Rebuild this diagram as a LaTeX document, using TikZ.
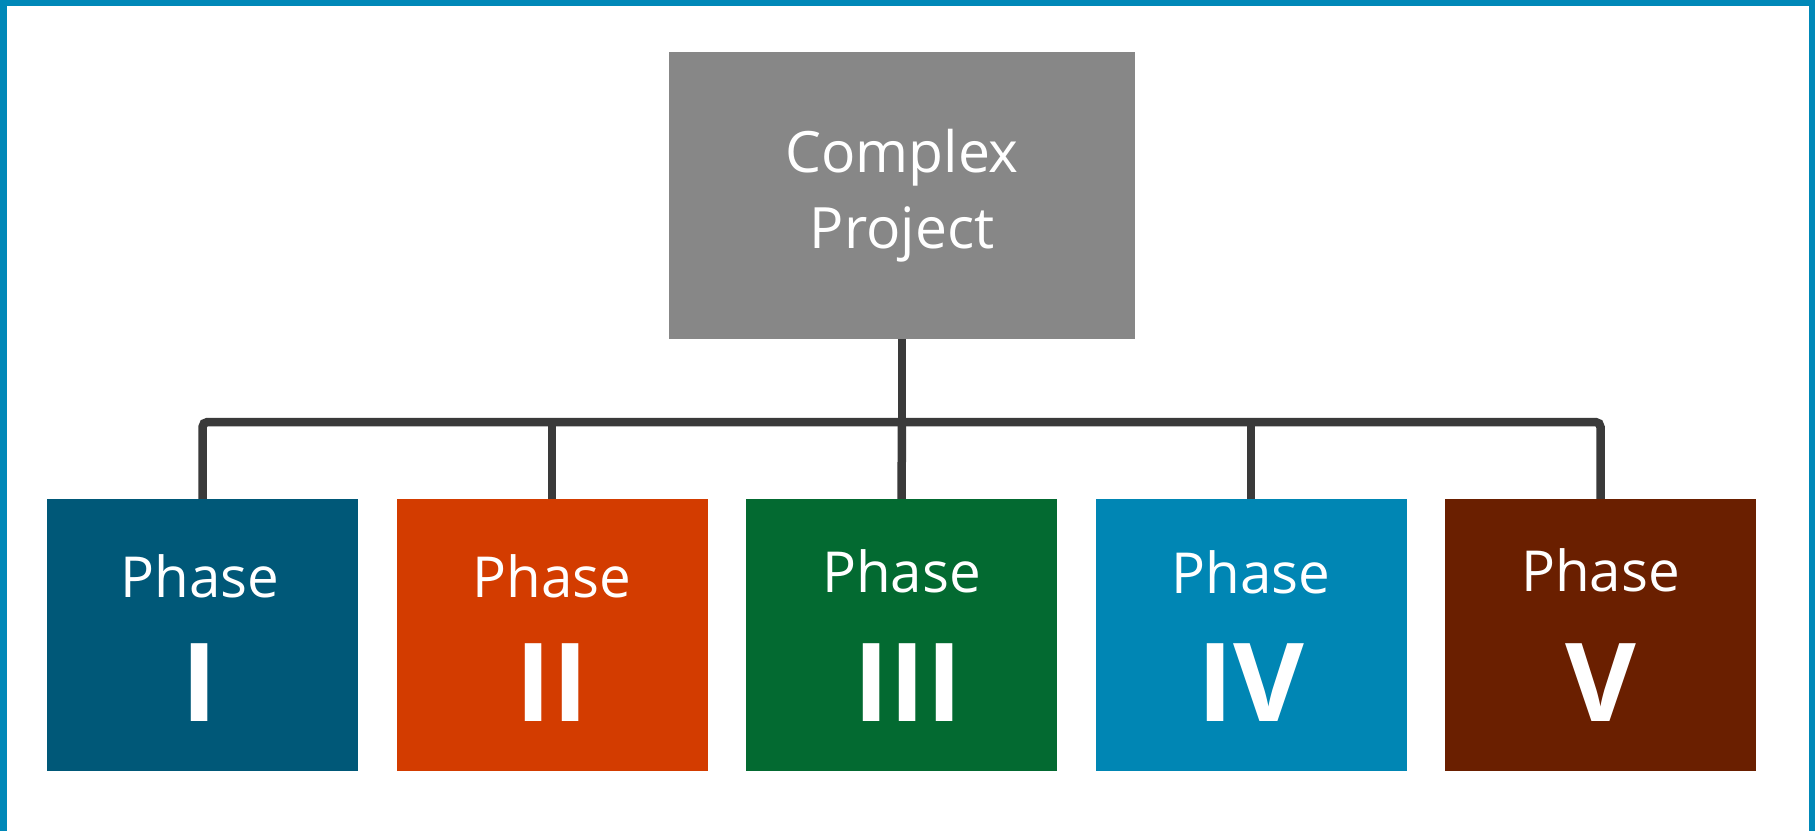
\documentclass[tikz,border=0pt]{standalone}
\usepackage{fontspec}
\setmainfont{Open Sans}
\definecolor{frameblue}{HTML}{0088B8}
\definecolor{topgray}{HTML}{878787}
\definecolor{linegray}{HTML}{3A3A3A}
\definecolor{cI}{HTML}{005878}
\definecolor{cII}{HTML}{D33C00}
\definecolor{cIII}{HTML}{036A31}
\definecolor{cIV}{HTML}{0086B4}
\definecolor{cV}{HTML}{6A1F00}
\begin{document}
\begin{tikzpicture}[x=1pt,y=-1pt,
  topbox/.style={rectangle, fill=topgray, minimum width=466pt, minimum height=287pt,
    inner sep=0pt, text=white, align=center, font=\fontsize{57}{76}\selectfont},
  phasebox/.style={rectangle, minimum width=311pt, minimum height=272pt, inner sep=0pt},
  phaselabel/.style={anchor=base, text=white, inner sep=0pt, font=\fontsize{56.5}{68}\selectfont},
  numlabel/.style={anchor=base, text=white, inner sep=0pt, font=\bfseries\fontsize{109}{120}\selectfont},
  conn/.style={draw=linegray, line width=8.5pt}]
\useasboundingbox (0,0) rectangle (1815,831);
\fill[frameblue] (0,0) rectangle (1815,831);
\fill[white] (7,6) rectangle (1809,832);

\node[topbox] (top) at (902,195.5) {Complex\\Project};

\node[phasebox, fill=cI]   (p1) at (202.5,635) {};
\node[phasebox, fill=cII]  (p2) at (552,635) {};
\node[phasebox, fill=cIII] (p3) at (901.5,635) {};
\node[phasebox, fill=cIV]  (p4) at (1251,635) {};
\node[phasebox, fill=cV]   (p5) at (1600.5,635) {};

\node[phaselabel] (t1) at (200,597) {Phase};
\node[phaselabel] (t2) at (552,597) {Phase};
\node[phaselabel] (t3) at (901.5,592) {Phase};
\node[phaselabel] (t4) at (1251,593) {Phase};
\node[phaselabel] (t5) at (1600.5,591) {Phase};

\node[numlabel] (n1) at (200,721) {I};
\node[numlabel] (n2) at (552,721) {II};
\node[numlabel] (n3) at (908,721) {III};
\node[numlabel] (n4) at (1251,721) {IV};
\node[numlabel] (n5) at (1600.5,721) {V};

\coordinate (busL) at (202.5,422);
\coordinate (busR) at (1600.5,422);

\draw[conn, rounded corners=5pt] (p1.north) -- (busL) -- (busR) -- (p5.north);
\draw[conn] (top.south) -- (top.south |- busL);
\draw[conn] (top.south |- busL) -- (p3.north);
\draw[conn] (p2.north) -- (p2.north |- busL);
\draw[conn] (p4.north) -- (p4.north |- busL);
\end{tikzpicture}
\end{document}
